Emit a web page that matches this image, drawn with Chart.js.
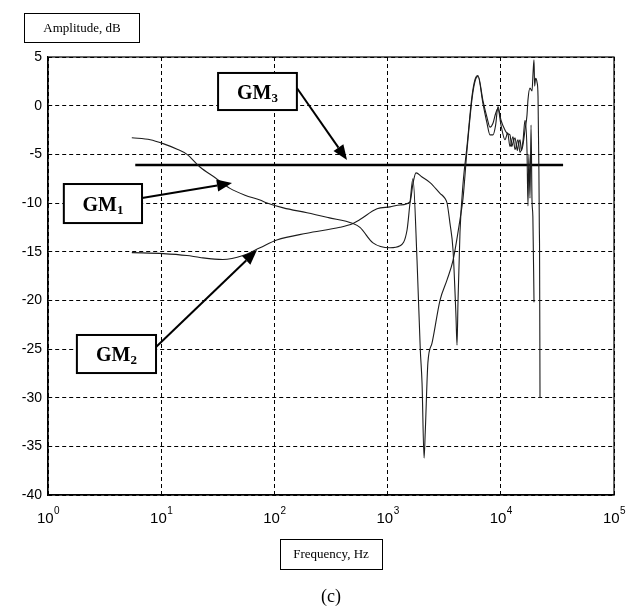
<!DOCTYPE html>
<html>
<head>
<meta charset="utf-8">
<script src="https://cdn.jsdelivr.net/npm/chart.js@4"></script>
<style>
  html, body { margin:0; padding:0; background:#fff; }
  #wrap { width:640px; height:608px; position:relative; }
</style>
</head>
<body>
<div id="wrap"><canvas id="chart"></canvas></div>
<script>
// ── Data ────────────────────────────────────────────────────────────────────
const xExponents = [0, 1, 2, 3, 4, 5];          // decade tick labels 10^n

// GM1: upper branch at low freq, deep notch near 2 kHz, ends at -30 dB
const gm1Freq = [5.5, 8, 10.4, 14, 16.9, 22, 30, 40.5, 55, 74.6, 86, 120, 194, 300, 495, 570, 743, 1050,
  1288, 1484, 1577, 1675, 1820, 1945, 2015, 2100, 2150, 2270, 2468, 2903, 3350, 3783, 4360, 4640,
  5025, 5570, 5920, 6290, 6960, 7550, 8030, 8530, 9000, 9440, 10040, 10890, 11500, 12050, 12500,
  12820, 13350, 14000, 14190, 14790, 15200, 15710, 16360, 17030, 17380, 18110, 18870, 19300, 19650,
  19900, 20300, 20900, 21320, 21700, 21900, 22000, 22200];
const gm1Amp = [-3.3, -3.5, -3.9, -4.5, -5.0, -6.3, -7.4, -8.5, -9.2, -9.7, -10.0, -10.5, -11.0, -11.5, -12.1, -12.5, -14.1, -14.6,
  -14.4, -12.8, -10.0, -7.5, -15.9, -25.1, -28.5, -36.2, -33.6, -26.4, -24.4, -20.0, -17.9, -15.9, -11.7, -9.5,
  -4.6, 0.7, 2.5, 3.0, 0.2, -1.8, -3.0, -3.0, -2.0, -0.1, -1.5, -2.5, -2.9, -3.0, -4.2,
  -3.8, -3.3, -4.6, -4.2, -3.5, -4.6, -4.0, -2.5, -1.0, 0.6, 1.8, 1.5, 3.5, 4.7,
  2.0, 2.8, 2.4, 1.0, -6.5, -12.6, -14.8, -30.0];

// GM2: lower branch at low freq, peak near 1.8 kHz, ends at -20 dB
const gm2Freq = [5.5, 10.4, 16.9, 22, 35, 52.8, 74.6, 105, 194, 380, 495, 570, 806, 1050, 1288, 1577,
  1675, 1782, 2000, 2371, 2903, 3200, 3350, 3557, 3783, 4020, 4104, 4190, 4360, 4640, 5025, 5570,
  5920, 6290, 6960, 7550, 8030, 8530, 9000, 9440, 10040, 10890, 11500, 12050, 12820, 13350, 14190,
  14790, 15710, 16360, 17030, 17380, 17700, 18110, 18500, 18870, 19200, 19650];
const gm2Amp = [-15.1, -15.2, -15.4, -15.6, -15.8, -15.4, -14.6, -13.8, -13.1, -12.5, -12.1, -11.7, -10.6, -10.4, -10.2, -9.9,
  -8.0, -6.9, -7.3, -7.9, -9.0, -9.5, -10.0, -12.1, -14.8, -21.7, -24.6, -20.0, -13.0, -8.0, -4.2, 1.0,
  2.7, 3.1, 0.5, -1.2, -2.2, -1.8, -0.8, -0.3, -2.0, -3.5, -2.8, -4.2, -3.2, -4.5, -3.5,
  -4.8, -3.6, -1.5, -4.5, -10.3, -5.0, -9.5, -2.0, -9.8, -11.4, -20.2];

// GM3: flat level
const gm3Freq = [5.9, 35500];
const gm3Amp = [-6.1, -6.1];

const gmNames = ['GM', 'GM', 'GM'];
const gmSubs  = ['1', '2', '3'];

// ── Helpers ─────────────────────────────────────────────────────────────────
const pts = (xs, ys) => xs.map((x, i) => ({ x, y: ys[i] }));

// label boxes and arrows, placed in data coordinates
const callouts = [
  { box:[1.38, 6.77, -8.05, -12.06],  from:[6.77, -9.49], to:[42.2, -7.95] },
  { box:[1.80, 9.0, -23.56, -27.47],  from:[9.0, -24.8],  to:[70.2, -14.83] },
  { box:[31.8, 158, 3.36, -0.45],     from:[158, 1.82],   to:[438, -5.58] },
];

function arrow(ctx, x1, y1, x2, y2) {
  const a = Math.atan2(y2 - y1, x2 - x1), L = 15, W = 6;
  const bx = x2 - L * Math.cos(a), by = y2 - L * Math.sin(a);
  ctx.beginPath(); ctx.moveTo(x1, y1); ctx.lineTo(bx, by); ctx.lineWidth = 2; ctx.stroke();
  ctx.beginPath();
  ctx.moveTo(x2, y2);
  ctx.lineTo(bx + W * Math.sin(a), by - W * Math.cos(a));
  ctx.lineTo(bx - W * Math.sin(a), by + W * Math.cos(a));
  ctx.closePath(); ctx.fill();
}

function textBox(ctx, text, cx, y0, y1, padX) {
  ctx.font = '13px "Liberation Serif", serif';
  const w = ctx.measureText(text).width + 2 * padX;
  ctx.lineWidth = 1;
  ctx.strokeRect(Math.round(cx - w / 2) + 0.5, y0 + 0.5, Math.round(w), y1 - y0);
  ctx.textAlign = 'center'; ctx.textBaseline = 'middle';
  ctx.fillText(text, cx, (y0 + y1) / 2 + 1);
}

const decor = {
  id: 'decor',
  afterDraw(chart) {
    const { ctx, chartArea: ca, scales: { x, y } } = chart;
    ctx.save();
    ctx.strokeStyle = '#000'; ctx.fillStyle = '#000';

    // frame
    ctx.lineWidth = 1.2;
    ctx.strokeRect(ca.left, ca.top, ca.right - ca.left, ca.bottom - ca.top);

    // decade labels with superscripts
    for (const e of xExponents) {
      const px = x.getPixelForValue(Math.pow(10, e));
      ctx.font = '15px "Liberation Sans", Arial, sans-serif';
      const wb = ctx.measureText('10').width;
      ctx.font = '10px "Liberation Sans", Arial, sans-serif';
      const we = ctx.measureText(String(e)).width;
      const left = px - (wb + we) / 2;
      ctx.textAlign = 'left'; ctx.textBaseline = 'alphabetic';
      ctx.font = '15px "Liberation Sans", Arial, sans-serif';
      ctx.fillText('10', left, ca.bottom + 28);
      ctx.font = '10px "Liberation Sans", Arial, sans-serif';
      ctx.fillText(String(e), left + wb + 0.5, ca.bottom + 19);
    }

    // axis caption boxes
    textBox(ctx, 'Amplitude, dB', 82, 13, 42, 19);
    textBox(ctx, 'Frequency, Hz', (ca.left + ca.right) / 2, 539, 569, 13);
    ctx.font = '18px "Liberation Serif", serif';
    ctx.textAlign = 'center'; ctx.textBaseline = 'middle';
    ctx.fillText('(c)', (ca.left + ca.right) / 2, 597);

    // GM callouts
    callouts.forEach((c, i) => {
      const x0 = x.getPixelForValue(c.box[0]), x1 = x.getPixelForValue(c.box[1]);
      const y0 = y.getPixelForValue(c.box[2]), y1 = y.getPixelForValue(c.box[3]);
      arrow(ctx, x.getPixelForValue(c.from[0]), y.getPixelForValue(c.from[1]),
                 x.getPixelForValue(c.to[0]),   y.getPixelForValue(c.to[1]));
      ctx.fillStyle = '#fff';
      ctx.fillRect(x0, y0, x1 - x0, y1 - y0);
      ctx.fillStyle = '#000';
      ctx.lineWidth = 2;
      ctx.strokeRect(x0, y0, x1 - x0, y1 - y0);
      ctx.font = 'bold 20px "Liberation Serif", serif';
      const wm = ctx.measureText(gmNames[i]).width;
      ctx.font = 'bold 13px "Liberation Serif", serif';
      const ws = ctx.measureText(gmSubs[i]).width;
      const sx = (x0 + x1) / 2 - (wm + ws) / 2, base = (y0 + y1) / 2 + 7;
      ctx.textAlign = 'left'; ctx.textBaseline = 'alphabetic';
      ctx.font = 'bold 20px "Liberation Serif", serif';
      ctx.fillText(gmNames[i], sx, base);
      ctx.font = 'bold 13px "Liberation Serif", serif';
      ctx.fillText(gmSubs[i], sx + wm, base + 3);
    });
    ctx.restore();
  }
};

// ── Chart ───────────────────────────────────────────────────────────────────
const thin = { borderColor:'#1c1c1c', borderWidth:1.1, pointRadius:0, fill:false, cubicInterpolationMode:'monotone' };

new Chart(document.getElementById('chart'), {
  type: 'line',
  data: {
    datasets: [
      { label:'GM1', data: pts(gm1Freq, gm1Amp), ...thin },
      { label:'GM2', data: pts(gm2Freq, gm2Amp), ...thin },
      { label:'GM3', data: pts(gm3Freq, gm3Amp), borderColor:'#000', borderWidth:2.6, pointRadius:0, fill:false },
    ]
  },
  options: {
    responsive: true,
    maintainAspectRatio: false,
    animation: false,
    layout: { padding: { top:57, right:26, left:0, bottom:0 } },
    plugins: { legend: { display:false }, tooltip: { enabled:false } },
    scales: {
      x: {
        type: 'logarithmic', min: 1, max: 1e5,
        afterBuildTicks: s => { s.ticks = xExponents.map(e => ({ value: Math.pow(10, e) })); },
        afterFit: s => { s.height = 113; },
        ticks: { display:false },
        grid: { color:'#000', lineWidth:1, drawTicks:false },
        border: { display:true, color:'#000', width:1.2, dash:[4,3] }
      },
      y: {
        min: -40, max: 5,
        afterFit: s => { s.width = 48; },
        ticks: { stepSize:5, color:'#000', padding:6,
                 font:{ family:'"Liberation Sans", Arial, sans-serif', size:14 } },
        grid: { color:'#000', lineWidth:1, drawTicks:false },
        border: { display:true, color:'#000', width:1.2, dash:[4,3] }
      }
    }
  },
  plugins: [decor]
});
</script>
</body>
</html>
